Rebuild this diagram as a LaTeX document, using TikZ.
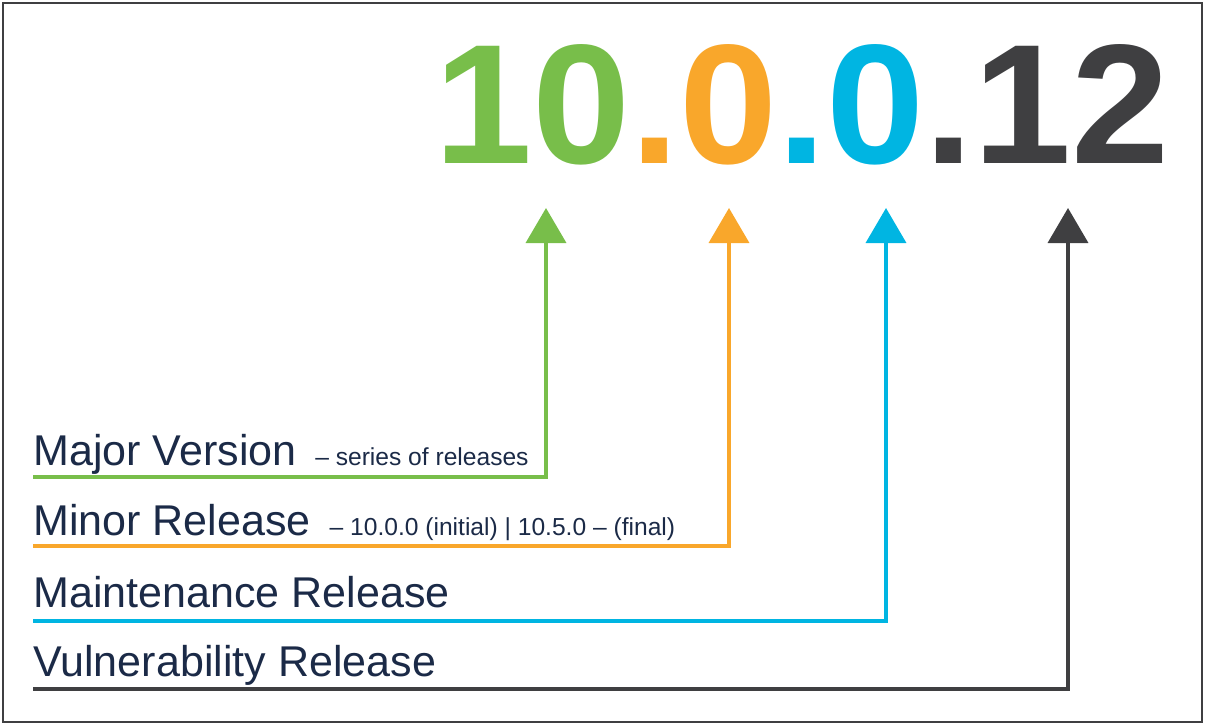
\documentclass[tikz,border=0pt]{standalone}
\usepackage{fontspec}
\setmainfont{Liberation Sans}
\usetikzlibrary{arrows.meta}
\definecolor{vgreen}{HTML}{78BE4A}
\definecolor{vorange}{HTML}{F9A72B}
\definecolor{vblue}{HTML}{00B5E2}
\definecolor{vdark}{HTML}{3F3F41}
\definecolor{vnavy}{HTML}{1B2A47}
\newcommand\subsz{\fontsize{14}{16}\selectfont}

\begin{document}
\begin{tikzpicture}[x=0.02cm,y=-0.02cm]
\tikzstyle{lbl}=[anchor=base west,inner sep=0pt,text=vnavy,font=\fontsize{24.5}{28}\selectfont]
\tikzstyle{pointer}=[line width=2.1pt,-{Triangle[width=0.8cm,length=0.7cm]}]
\useasboundingbox (0,0) rectangle (1205,725);
\draw[vdark,line width=1pt] (3,3) rectangle (1202,722);
\node[anchor=base west,inner sep=0pt,xscale=1.035,font=\fontsize{97}{100}\selectfont\bfseries] (num) at (434,163)
 {\textcolor{vgreen}{10}\textcolor{vorange}{.0}\textcolor{vblue}{.0}\textcolor{vdark}{.12}};
\foreach \name/\y/\txt in {
	maj/465/{Major Version {\subsz\ -- series of releases}},
	min/535/{Minor Release {\subsz\ -- 10.0.0 (initial) | 10.5.0 -- (final)}},
	mnt/607/{Maintenance Release},
	vul/676/{Vulnerability Release}}
	\node[lbl] (\name) at (33,\y) {\txt};
\foreach \name/\x/\y/\col in {
	maj/546/477/vgreen,
	min/729/546/vorange,
	mnt/886/621/vblue,
	vul/1068/689/vdark}{
	\coordinate (\name start) at (33,\y);
	\coordinate (\name tip) at (\x,208);
	\draw[pointer,\col] (\name start) -| (\name tip);
}
\end{tikzpicture}
\end{document}
